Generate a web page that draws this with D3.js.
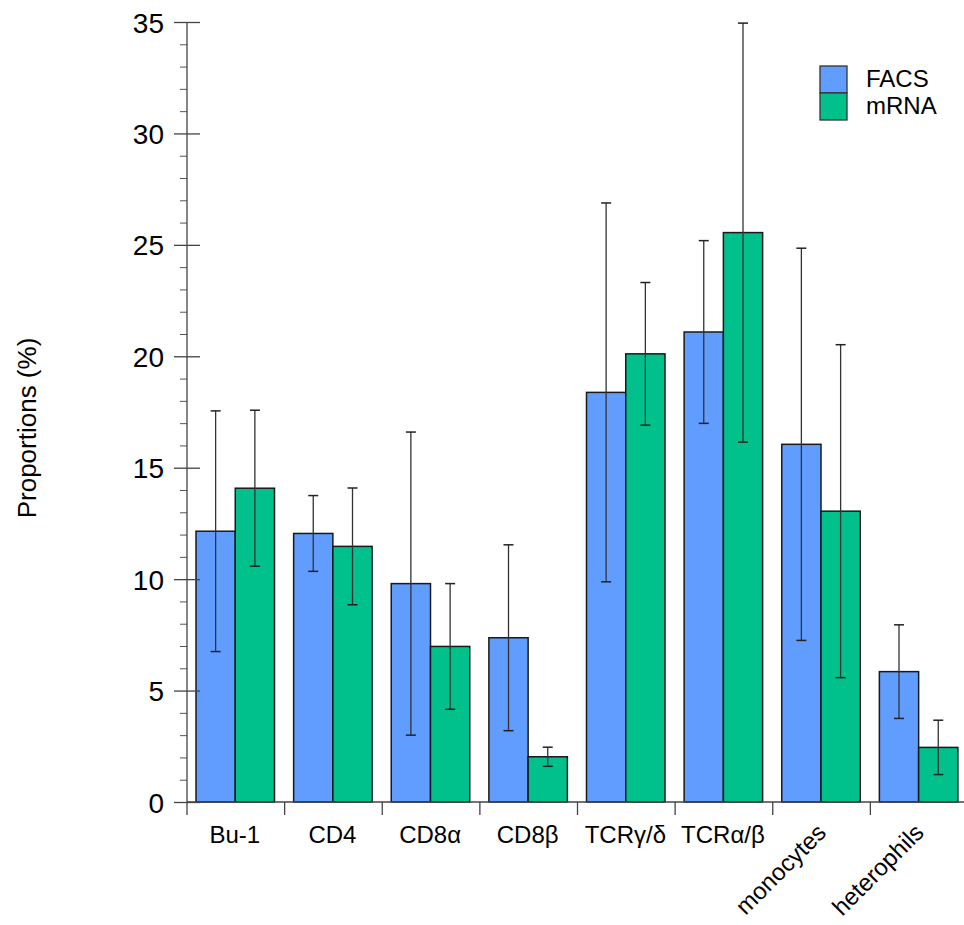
<!DOCTYPE html>
<html>
<head>
<meta charset="utf-8">
<script src="https://cdn.jsdelivr.net/npm/d3@7"></script>
<style>
  body { margin: 0; background: #fff; }
  svg text { font-family: "Liberation Sans", Arial, Helvetica, sans-serif; fill: #000; }
</style>
</head>
<body>
<div id="chart"></div>
<script>
// Chart data
const categories = ["Bu-1", "CD4", "CD8α", "CD8β", "TCRγ/δ", "TCRα/β", "monocytes", "heterophils"];
const series = ["FACS", "mRNA"];
const facsMean = [12.15, 12.05, 9.8, 7.37, 18.38, 21.09, 16.05, 5.85];
const facsErr  = [5.4, 1.7, 6.8, 4.17, 8.5, 4.1, 8.8, 2.1];
const mrnaMean = [14.08, 11.47, 6.98, 2.03, 20.11, 25.55, 13.05, 2.45];
const mrnaErr  = [3.5, 2.62, 2.82, 0.43, 3.2, 9.4, 7.47, 1.22];
const yTicks = [0, 5, 10, 15, 20, 25, 30, 35];
const rotatedLabels = ["monocytes", "heterophils"];

const colors = { FACS: "#619cff", mRNA: "#00c08b" };

const width = 964, height = 925;
const margin = { top: 22, right: -4, bottom: 123, left: 187 };
const plotBottom = height - margin.bottom;

const svg = d3.select("#chart")
    .append("svg")
    .attr("width", width)
    .attr("height", height);

const x = d3.scaleBand()
    .domain(categories)
    .range([margin.left, width - margin.right])
    .paddingInner(0)
    .paddingOuter(0);

const xInner = d3.scaleBand()
    .domain(series)
    .range([9, 87.5]);

const y = d3.scaleLinear()
    .domain([0, 35])
    .range([plotBottom, margin.top]);

// Build rows for bars
const rows = [];
categories.forEach((c, i) => {
    rows.push({ cat: c, s: "FACS", v: facsMean[i], e: facsErr[i] });
    rows.push({ cat: c, s: "mRNA", v: mrnaMean[i], e: mrnaErr[i] });
});

// Bars
svg.append("g").selectAll("rect")
    .data(rows)
    .enter().append("rect")
    .attr("x", d => x(d.cat) + xInner(d.s))
    .attr("y", d => y(d.v))
    .attr("width", xInner.bandwidth())
    .attr("height", d => y(0) - y(d.v))
    .attr("fill", d => colors[d.s])
    .attr("stroke", "#1a1a1a")
    .attr("stroke-width", 1.5);

// Error bars
const eb = svg.append("g").selectAll("g")
    .data(rows)
    .enter().append("g")
    .attr("transform", d => `translate(${x(d.cat) + xInner(d.s) + xInner.bandwidth() / 2},0)`);

eb.append("line")
    .attr("y1", d => y(d.v - d.e))
    .attr("y2", d => y(d.v + d.e))
    .attr("stroke", "#333")
    .attr("stroke-width", 1.3);

eb.selectAll(".cap")
    .data(d => [d.v - d.e, d.v + d.e])
    .enter().append("line")
    .attr("class", "cap")
    .attr("x1", -5)
    .attr("x2", 5)
    .attr("y1", v => y(v))
    .attr("y2", v => y(v))
    .attr("stroke", "#222")
    .attr("stroke-width", 1.5);

// Y axis: major ticks both sides
const yAxis = svg.append("g")
    .attr("transform", `translate(${margin.left},0)`)
    .call(d3.axisLeft(y).tickValues(yTicks).tickSize(13).tickPadding(10));

yAxis.select(".domain").remove();
yAxis.selectAll(".tick line")
    .attr("x1", 13)
    .attr("stroke", "#444")
    .attr("stroke-width", 1.3);
yAxis.selectAll(".tick text")
    .style("font-size", "28px")
    .attr("dy", "0.36em");

// Y axis: minor ticks
const minor = d3.range(0, 35).filter(v => v % 5 !== 0);
const yMinor = svg.append("g")
    .attr("transform", `translate(${margin.left},0)`)
    .call(d3.axisLeft(y).tickValues(minor).tickSize(7).tickFormat(""));
yMinor.select(".domain").remove();
yMinor.selectAll(".tick line").attr("stroke", "#555");

svg.append("line")
    .attr("x1", margin.left).attr("x2", margin.left)
    .attr("y1", y(35)).attr("y2", plotBottom + 13)
    .attr("stroke", "#444")
    .attr("stroke-width", 1.3);

// X axis line and boundary ticks
svg.append("line")
    .attr("x1", margin.left).attr("x2", width)
    .attr("y1", plotBottom).attr("y2", plotBottom)
    .attr("stroke", "#444")
    .attr("stroke-width", 1.3);

svg.append("g").selectAll("line")
    .data(categories.slice(1))
    .enter().append("line")
    .attr("x1", d => x(d)).attr("x2", d => x(d))
    .attr("y1", plotBottom).attr("y2", plotBottom + 13)
    .attr("stroke", "#444")
    .attr("stroke-width", 1.3);

// X labels
svg.append("g").selectAll("text")
    .data(categories)
    .enter().append("text")
    .attr("transform", d => {
        const cx = x(d) + x.bandwidth() / 2;
        return rotatedLabels.includes(d)
            ? `translate(${cx + 6},${plotBottom + 32}) rotate(-45)`
            : `translate(${cx - 1},${plotBottom + 41})`;
    })
    .attr("text-anchor", d => rotatedLabels.includes(d) ? "end" : "middle")
    .style("font-size", "24px")
    .text(d => d);

// Y label
svg.append("text")
    .attr("transform", `translate(36, ${428}) rotate(-90)`)
    .attr("text-anchor", "middle")
    .style("font-size", "26px")
    .text("Proportions (%)");

// Legend
const legend = svg.append("g").attr("transform", "translate(820,66)");
legend.selectAll("rect")
    .data(series)
    .enter().append("rect")
    .attr("x", 0)
    .attr("y", (d, i) => i * 27)
    .attr("width", 27)
    .attr("height", 27)
    .attr("fill", d => colors[d])
    .attr("stroke", "#333")
    .attr("stroke-width", 1.3);
legend.selectAll("text")
    .data(series)
    .enter().append("text")
    .attr("x", 46)
    .attr("y", (d, i) => 21 + i * 27)
    .style("font-size", "24px")
    .text(d => d);
</script>
</body>
</html>
